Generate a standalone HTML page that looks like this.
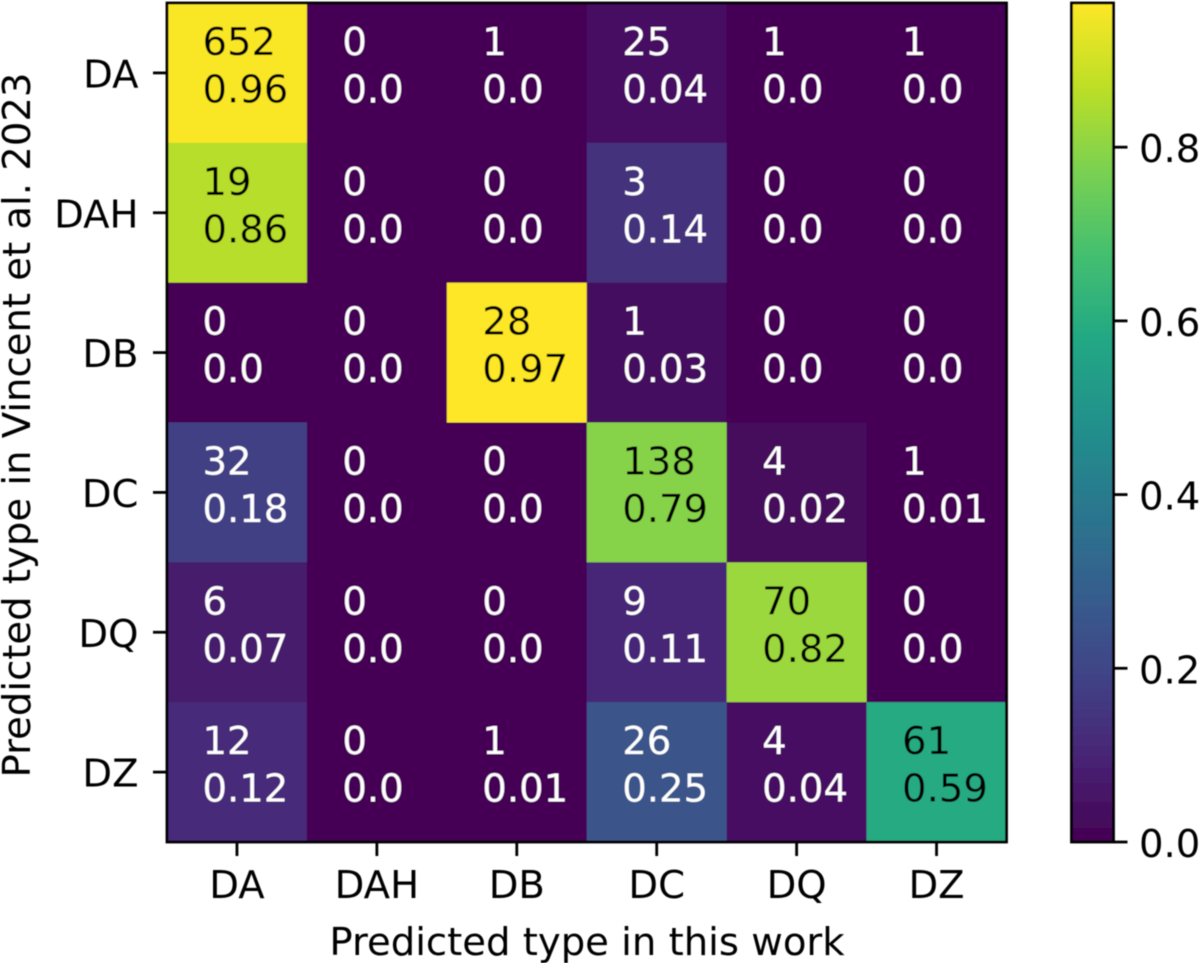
<!DOCTYPE html>
<html lang="en">
<head>
<meta charset="utf-8">
<title>Confusion matrix</title>
<style>
html,body{margin:0;padding:0;background:#fff;width:1200px;height:963px;overflow:hidden}
svg{display:block}
text{font-family:"DejaVu Sans","Liberation Sans",sans-serif;font-size:38.6px}
</style>
</head>
<body>
<svg id="chart" xmlns="http://www.w3.org/2000/svg" width="1200" height="963" viewBox="0 0 1200 963">
  <defs>
    <filter id="soft" x="-5%" y="-5%" width="110%" height="110%"><feGaussianBlur stdDeviation="0.6"/></filter>
    <linearGradient id="viridis-gradient" x1="0" y1="1" x2="0" y2="0"></linearGradient>
  </defs>
  <g id="root" filter="url(#soft)"></g>
</svg>
<script>
const xCategories = ['DA', 'DAH', 'DB', 'DC', 'DQ', 'DZ'];
const yCategories = ['DA', 'DAH', 'DB', 'DC', 'DQ', 'DZ'];
const counts = [
  [652, 0, 1, 25, 1, 1],
  [19, 0, 0, 3, 0, 0],
  [0, 0, 28, 1, 0, 0],
  [32, 0, 0, 138, 4, 1],
  [6, 0, 0, 9, 70, 0],
  [12, 0, 1, 26, 4, 61]
];
const fractions = [
  [0.96, 0.0, 0.0, 0.04, 0.0, 0.0],
  [0.86, 0.0, 0.0, 0.14, 0.0, 0.0],
  [0.0, 0.0, 0.97, 0.03, 0.0, 0.0],
  [0.18, 0.0, 0.0, 0.79, 0.02, 0.01],
  [0.07, 0.0, 0.0, 0.11, 0.82, 0.0],
  [0.12, 0.0, 0.01, 0.25, 0.04, 0.59]
];
const colorbarTicks = [0.0, 0.2, 0.4, 0.6, 0.8];
const colorMin = 0;
const colorMax = 0.966;
const xAxisTitle = 'Predicted type in this work';
const yAxisTitle = 'Predicted type in Vincent et al. 2023';

const viridisStops = ['#440154', '#482475', '#414487', '#355f8d', '#2a788e', '#21918c', '#22a884', '#44bf70', '#7ad151', '#bddf26', '#fde725'];

const NS = 'http://www.w3.org/2000/svg';
const root = document.getElementById('root');
const plot = { left: 167, right: 1006.5, top: 3, bottom: 842 };
const bar = { left: 1071.5, right: 1113.5 };
const cellW = (plot.right - plot.left) / xCategories.length;
const cellH = (plot.bottom - plot.top) / yCategories.length;

function xBand(i) { return plot.left + i * cellW; }
function yBand(i) { return plot.top + i * cellH; }
function colorbarY(v) { return plot.bottom - (v - colorMin) / (colorMax - colorMin) * (plot.bottom - plot.top); }
function hexToRgb(h) { return [1, 3, 5].map(function (k) { return parseInt(h.substr(k, 2), 16); }); }
function viridis(v) {
  const t = Math.min(1, Math.max(0, (v - colorMin) / (colorMax - colorMin))) * (viridisStops.length - 1);
  const i = Math.min(viridisStops.length - 2, Math.floor(t));
  const a = hexToRgb(viridisStops[i]);
  const b = hexToRgb(viridisStops[i + 1]);
  const f = t - i;
  return 'rgb(' + a.map(function (c, k) { return Math.round(c + (b[k] - c) * f); }).join(',') + ')';
}
function make(tag, attrs, parent, content) {
  const el = document.createElementNS(NS, tag);
  Object.keys(attrs).forEach(function (k) { el.setAttribute(k, attrs[k]); });
  if (content !== undefined) el.textContent = content;
  (parent || root).appendChild(el);
  return el;
}
function formatFraction(v) { return Number.isInteger(v) ? v.toFixed(1) : String(v); }

// heatmap cells and annotations
counts.forEach(function (row, r) {
  row.forEach(function (count, c) {
    const frac = fractions[r][c];
    const cell = make('rect', { x: xBand(c), y: yBand(r), width: cellW + 0.4, height: cellH + 0.4, fill: viridis(frac) });
    
    
  });
});
counts.forEach(function (row, r) {
  row.forEach(function (count, c) {
    const frac = fractions[r][c];
    const color = frac > (colorMax + colorMin) / 2 ? '#000' : '#fff';
    const tx = xBand(c) + cellW / 2 - 34.5;
    const top = make('text', { x: tx, y: yBand(r) + cellH / 2 - 18, fill: color }, root, String(count));
    
    
    const bottom = make('text', { x: tx, y: yBand(r) + cellH / 2 + 29.5, fill: color }, root, formatFraction(frac));
    
    
  });
});

// plot frame
const frame = make('rect', { x: plot.left, y: plot.top, width: plot.right - plot.left, height: plot.bottom - plot.top, fill: 'none', stroke: '#000', 'stroke-width': 2.8 });



// x ticks
xCategories.forEach(function (label, i) {
  const x = xBand(i) + cellW / 2;
  const tick = make('line', { x1: x, x2: x, y1: plot.bottom, y2: plot.bottom + 14, stroke: '#000', 'stroke-width': 2.8 });
  
  
  const text = make('text', { x: x, y: 898, 'text-anchor': 'middle', fill: '#000' }, root, label);
  
  
});

// y ticks
yCategories.forEach(function (label, i) {
  const y = yBand(i) + cellH / 2;
  const tick = make('line', { x1: plot.left - 14, x2: plot.left, y1: y, y2: y, stroke: '#000', 'stroke-width': 2.8 });
  
  
  const text = make('text', { x: 138.5, y: y + 14.5, 'text-anchor': 'end', fill: '#000' }, root, label);
  
  
});

// axis titles
const xTitle = make('text', { x: 587, y: 955, 'text-anchor': 'middle', fill: '#000' }, root, xAxisTitle);


const yTitle = make('text', { x: 0, y: 0, 'text-anchor': 'middle', fill: '#000', transform: 'translate(30 425) rotate(-90)' }, root, yAxisTitle);



// colorbar
const gradient = document.getElementById('viridis-gradient');
viridisStops.forEach(function (color, i) {
  make('stop', { offset: i / (viridisStops.length - 1), 'stop-color': color }, gradient);
});
const colorbar = make('rect', { x: bar.left, y: plot.top, width: bar.right - bar.left, height: plot.bottom - plot.top, fill: 'url(#viridis-gradient)', stroke: '#000', 'stroke-width': 2.8 });


colorbarTicks.forEach(function (v) {
  const y = colorbarY(v);
  const tick = make('line', { x1: bar.right, x2: bar.right + 14, y1: y, y2: y, stroke: '#000', 'stroke-width': 2.8 });
  
  
  const text = make('text', { x: 1139, y: y + 15, fill: '#000' }, root, v.toFixed(1));
  
  
});
</script>
</body>
</html>
